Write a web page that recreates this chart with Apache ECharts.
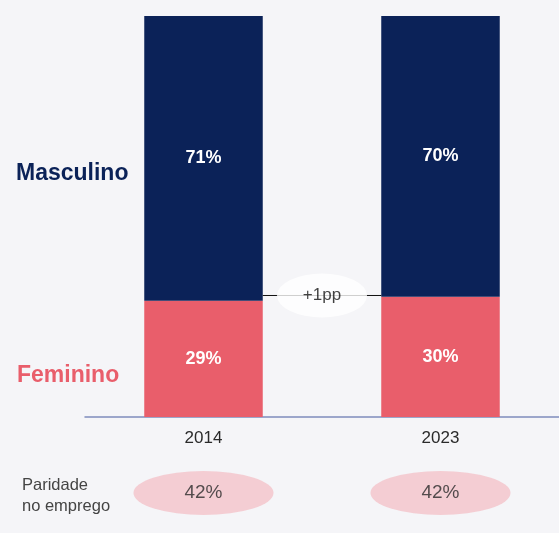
<!DOCTYPE html>
<html><head><meta charset="utf-8">
<script src="https://cdn.jsdelivr.net/npm/echarts@6/dist/echarts.min.js"></script>
<style>html,body{margin:0;padding:0;background:#f5f5f8;}#c{width:559px;height:533px;}</style>
</head><body><div id="c"></div>
<script>
var years = ['2014', '2023'];
var masculino = [71, 70];
var feminino = [29, 30];
var paridade = [42, 42];
var diffLabel = '+1pp';
var diffLevel = 30.3;
var seriesNames = ['Masculino', 'Feminino'];

var FONT = 'Liberation Sans, Arial, sans-serif';
var chart = echarts.init(document.getElementById('c'), null, {renderer: 'canvas'});
chart.setOption({
  backgroundColor: '#f5f5f8',
  animation: false,
  textStyle: {fontFamily: FONT},
  grid: [
    {left: 85, right: 0, top: 16, bottom: 116},
    {left: 85, right: 0, top: 471, height: 44}
  ],
  xAxis: [
    {type: 'category', gridIndex: 0, data: years,
     axisLine: {lineStyle: {color: '#7f8cbc', width: 1.5}},
     axisTick: {show: false},
     axisLabel: {color: '#2a2a2a', fontSize: 17, margin: 13, fontFamily: FONT}},
    {type: 'value', gridIndex: 0, min: 0, max: 2, show: false},
    {type: 'category', gridIndex: 1, data: years, show: false}
  ],
  yAxis: [
    {type: 'value', gridIndex: 0, min: 0, max: 100, show: false},
    {type: 'value', gridIndex: 1, min: 0, max: 1, show: false}
  ],
  series: [
    {name: seriesNames[1], type: 'bar', stack: 's', xAxisIndex: 0, yAxisIndex: 0,
     barWidth: '50%', data: feminino,
     itemStyle: {color: '#e95e6b'},
     label: {show: true, position: 'inside', color: '#fff', fontSize: 18, fontWeight: 'bold', fontFamily: FONT,
             formatter: function(p){return p.value + '%';}}},
    {name: seriesNames[0], type: 'bar', stack: 's', xAxisIndex: 0, yAxisIndex: 0,
     barWidth: '50%', data: masculino,
     itemStyle: {color: '#0b2258'},
     label: {show: true, position: 'inside', color: '#fff', fontSize: 18, fontWeight: 'bold', fontFamily: FONT,
             formatter: function(p){return p.value + '%';}}},
    {type: 'line', xAxisIndex: 1, yAxisIndex: 0, symbol: 'none', silent: true,
     data: [[0.75, diffLevel], [1.25, diffLevel]],
     lineStyle: {color: '#111', width: 1}, z: 3},
    {type: 'scatter', xAxisIndex: 1, yAxisIndex: 0, symbol: 'circle', symbolSize: [90, 44],
     data: [[1, diffLevel]], z: 4,
     itemStyle: {color: '#ffffff'},
     label: {show: true, position: 'inside', color: '#111', fontSize: 17, fontFamily: FONT,
             formatter: function(){return diffLabel;}}},
    {type: 'scatter', xAxisIndex: 2, yAxisIndex: 1, symbol: 'circle', symbolSize: [140, 44],
     data: paridade.map(function(v, i){return [years[i], 0.5, v];}),
     itemStyle: {color: '#f4c3c9'},
     label: {show: true, position: 'inside', color: '#2a2a2a', fontSize: 19, fontFamily: FONT,
             formatter: function(p){return p.value[2] + '%';}}}
  ],
  graphic: [
    {type: 'text', left: 16, top: 162, style: {text: seriesNames[0], fill: '#0b2258', font: 'bold 23px ' + FONT}},
    {type: 'text', left: 17, top: 364, style: {text: seriesNames[1], fill: '#e95e6b', font: 'bold 23px ' + FONT}},
    {type: 'text', left: 22, top: 475, style: {text: 'Paridade\nno emprego', fill: '#444', font: '16.5px ' + FONT, lineHeight: 21}}
  ]
});
</script></body></html>
